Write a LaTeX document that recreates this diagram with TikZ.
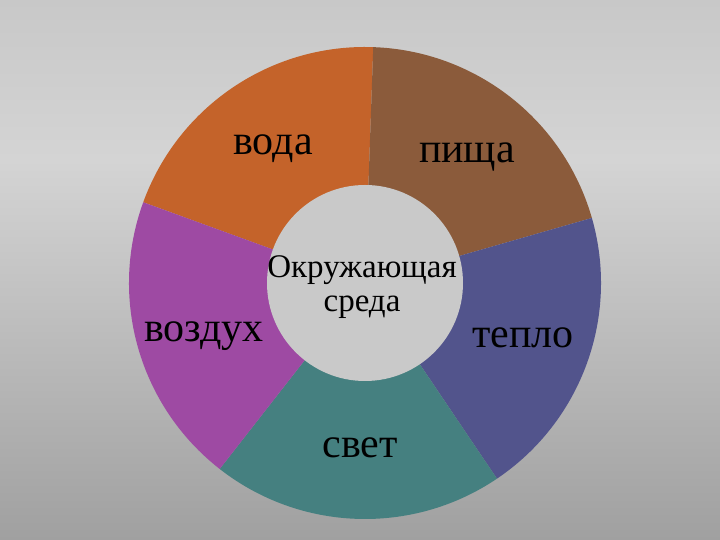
\documentclass[tikz,border=0pt]{standalone}
\usepackage{fontspec}
\setmainfont{Liberation Serif}
\usetikzlibrary{calc}
\definecolor{cvoda}{HTML}{C4632A}
\definecolor{cpisha}{HTML}{8B5B3B}
\definecolor{cteplo}{HTML}{52548C}
\definecolor{csvet}{HTML}{458080}
\definecolor{cvozd}{HTML}{9E4AA3}
\definecolor{cinner}{HTML}{C9C9C9}
\definecolor{bgtop}{HTML}{C8C8C8}
\definecolor{bgmid}{HTML}{D4D4D4}
\definecolor{bgbot}{HTML}{A0A0A0}
\tikzset{
  lbl/.style={font=\fontsize{42}{44}\selectfont, text=black, inner sep=0pt, anchor=base},
  clbl/.style={font=\fontsize{33}{34}\selectfont, text=black, align=center, inner sep=0pt, anchor=base}
}
\begin{document}
\begin{tikzpicture}[x=1pt,y=1pt]
\useasboundingbox (0,0) rectangle (720,540);
\shade[top color=bgtop, bottom color=bgmid, draw=none] (0,380) rectangle (720,540.5);
\shade[top color=bgmid, bottom color=bgbot, draw=none] (0,-0.5) rectangle (720,380.5);
\coordinate (c) at (365,257);
\def\R{236}
% sectors
\fill[cvoda]  ($(c)+(88:\R)$) arc[start angle=88, end angle=160, radius=\R] -- (c) -- cycle;
\fill[cpisha] ($(c)+(16:\R)$) arc[start angle=16, end angle=88, radius=\R] -- (c) -- cycle;
\fill[cteplo] ($(c)+(-56:\R)$) arc[start angle=-56, end angle=16, radius=\R] -- (c) -- cycle;
\fill[csvet]  ($(c)+(-128:\R)$) arc[start angle=-128, end angle=-56, radius=\R] -- (c) -- cycle;
\fill[cvozd]  ($(c)+(160:\R)$) arc[start angle=160, end angle=232, radius=\R] -- (c) -- cycle;
\node[circle, fill=cinner, minimum size=196pt, inner sep=0pt] (hub) at (c) {};
\node[clbl] (env1) at (362,262) {Окружающая};
\node[clbl] (env2) at (362,228) {среда};
\node[lbl] (voda) at (273,385) {вода};
\node[lbl] (pisha) at (467,377) {пища};
\node[lbl] (vozd) at (204,198) {воздух};
\node[lbl] (teplo) at (523,192) {тепло};
\node[lbl] (svet) at (360,82) {свет};
\end{tikzpicture}
\end{document}
